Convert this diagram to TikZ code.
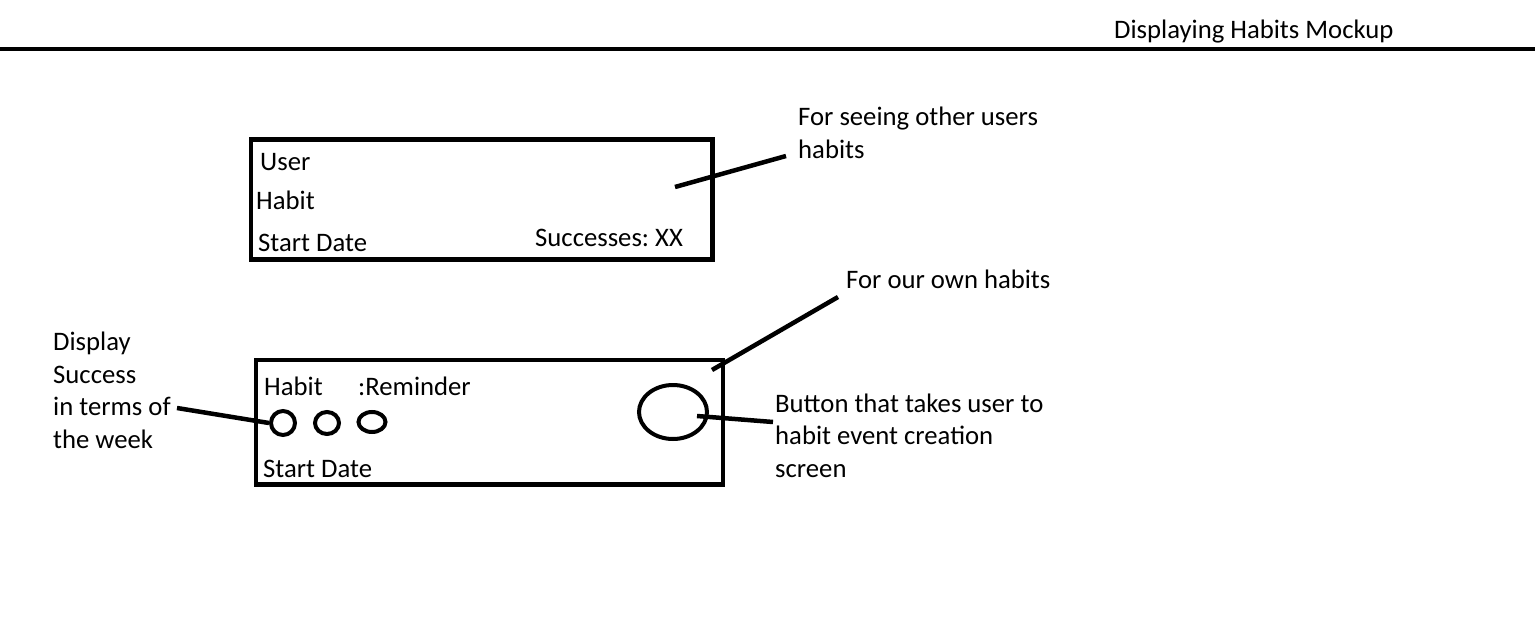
\documentclass[tikz,border=0pt]{standalone}
\usepackage{fontspec}
\setmainfont{Carlito}
\usetikzlibrary{shapes.geometric}
\frenchspacing
\begin{document}
\begin{tikzpicture}[x=1pt,y=-1pt,
  every node/.style={font=\fontsize{26.7}{32.5}\selectfont},
  label/.style={anchor=base west,inner sep=0pt,align=left},
  frame/.style={draw,line width=4.5pt,rectangle,inner sep=0pt},
  dot/.style={draw,line width=4pt,ellipse,inner sep=0pt},
  wire/.style={line width=4.5pt}]
\useasboundingbox[fill=white] (0,0) rectangle (1535,629);

% page header
\node[label] (title) at (1114,38) {Displaying Habits Mockup};
\coordinate (ruleL) at (0,49);
\coordinate (ruleR) at (1535,49);
\draw[wire] (ruleL) -- (ruleR);

% card showing another user's habit
\node[frame,minimum width=461.5pt,minimum height=120pt] (othercard) at (481.75,199.5) {};
\node[label] (ouser) at (260,170) {User};
\node[label] (ohabit) at (256,209) {Habit};
\node[label] (ostart) at (258,251) {Start Date};
\node[label] (osucc) at (535,246) {Successes: XX};

% multi-line notes are placed by the baseline of their last line
\node[label] (othernote) at (798,158) {For seeing other users\\habits};
\coordinate (otherA) at (675,187);
\coordinate (otherB) at (786,156);
\draw[wire] (otherA) -- (otherB);

% card showing one of our own habits
\node[frame,minimum width=467pt,minimum height=124.5pt] (owncard) at (489.5,422.25) {};
\node[label] (whabit) at (264,395) {Habit};
\node[label] (wrem) at (358,395) {:Reminder};
\node[label] (wstart) at (263,477) {Start Date};

\node[dot,minimum width=24pt,minimum height=24pt] (d1) at (283,423) {};
\node[dot,minimum width=24pt,minimum height=22pt] (d2) at (327,423) {};
\node[dot,minimum width=27pt,minimum height=20pt] (d3) at (372,422) {};

\node[dot,minimum width=68pt,minimum height=54pt] (button) at (673,412) {};

\node[label] (weeknote) at (53,448) {Display\\Success\\in terms of\\the week};
\coordinate (weekA) at (177,408);
\draw[wire] (weekA) -- (d1.west);

\node[label] (ownnote) at (846,288) {For our own habits};
\coordinate (ownA) at (712,370);
\coordinate (ownB) at (838,297);
\draw[wire] (ownA) -- (ownB);

\node[label] (buttonnote) at (775,477) {Button that takes user to\\habit event creation\\screen};
\coordinate (btnA) at (697,416);
\coordinate (btnB) at (773,422);
\draw[wire] (btnA) -- (btnB);
\end{tikzpicture}
\end{document}
